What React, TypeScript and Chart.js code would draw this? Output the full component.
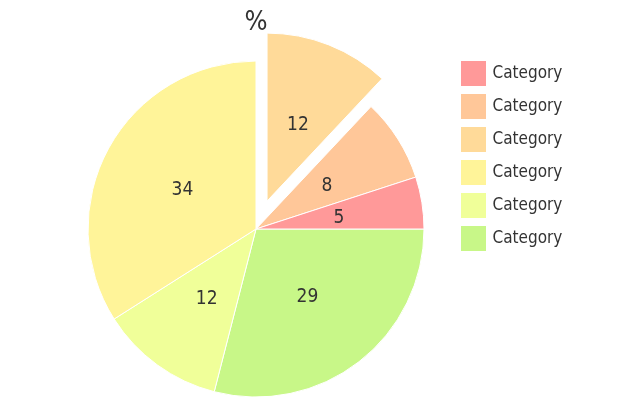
import React, { useRef, useEffect } from 'react';
import { Chart, registerables } from 'chart.js';

Chart.register(...registerables);

// legend order, counter-clockwise from 3 o'clock
const categories = ['Category', 'Category', 'Category', 'Category', 'Category', 'Category'];
const values = [5, 8, 12, 34, 12, 29];
const colors = ['#FF9999', '#FFC799', '#FFDA99', '#FFF499', '#F0FF99', '#C8F788'];
const explodedIndex = 2;

const FONT = "'DejaVu Sans Condensed', 'DejaVu Sans', sans-serif";
const TEXT = '#333333';
const EXPLODE = 30;

// chart.js goes clockwise, so feed the data reversed
const order = values.map((_, i) => values.length - 1 - i);

const explodePlugin = {
  id: 'explodeSlice',
  afterDatasetsUpdate(chart: any) {
    const meta = chart.getDatasetMeta(0);
    const el = meta.data[order.indexOf(explodedIndex)];
    if (!el) return;
    const mid = (el.startAngle + el.endAngle) / 2;
    el.x += Math.cos(mid) * EXPLODE;
    el.y += Math.sin(mid) * EXPLODE;
  },
};

const valueLabels = {
  id: 'valueLabels',
  afterDatasetsDraw(chart: any) {
    const { ctx } = chart;
    const meta = chart.getDatasetMeta(0);
    ctx.save();
    ctx.font = `19px ${FONT}`;
    ctx.fillStyle = TEXT;
    ctx.textAlign = 'center';
    ctx.textBaseline = 'middle';
    meta.data.forEach((el: any, i: number) => {
      const mid = (el.startAngle + el.endAngle) / 2;
      const r = el.outerRadius / 2;
      ctx.fillText(String(values[order[i]]), el.x + Math.cos(mid) * r, el.y + Math.sin(mid) * r + 2);
    });
    ctx.restore();
  },
};

const PieChart: React.FC = () => {
  const canvasRef = useRef<HTMLCanvasElement>(null);

  useEffect(() => {
    if (!canvasRef.current) return;
    const baseLabels = (Chart as any).overrides.doughnut.plugins.legend.labels.generateLabels;
    const chart = new Chart(canvasRef.current, {
      type: 'pie',
      data: {
        labels: order.map(i => categories[i]),
        datasets: [{
          data: order.map(i => values[i]),
          backgroundColor: order.map(i => colors[i]),
          borderColor: '#ffffff',
          borderWidth: 1,
        }],
      },
      options: {
        animation: false,
        responsive: true,
        maintainAspectRatio: false,
        events: [],
        rotation: 90,
        radius: 168,
        layout: { padding: { left: 61, right: 74, top: 0, bottom: 7 } },
        plugins: {
          title: {
            display: true,
            text: '%',
            fullSize: false,
            color: TEXT,
            font: { family: FONT, size: 27, weight: 'normal' },
            padding: { top: 6.5, bottom: 12.1 },
          },
          legend: {
            position: 'right',
            align: 'start',
            fullSize: false,
            reverse: true,
            maxWidth: 115,
            labels: {
              boxWidth: 21,
              boxHeight: 21,
              padding: 12,
              color: TEXT,
              font: { family: FONT, size: 17 },
              // stroke in the fill colour so the box looks 25px with a tighter text gap
              generateLabels: (c: any) =>
                baseLabels(c).map((item: any) => ({ ...item, strokeStyle: item.fillStyle, lineWidth: 4 })),
            },
          },
          tooltip: { enabled: false },
        },
      },
      plugins: [explodePlugin, valueLabels],
    });
    return () => chart.destroy();
  }, []);

  return (
    <div style={{ position: 'fixed', left: 0, top: 0, width: 640, height: 414, background: '#fff' }}>
      <canvas ref={canvasRef} />
    </div>
  );
};

export default function App() {
  return <PieChart />;
}
